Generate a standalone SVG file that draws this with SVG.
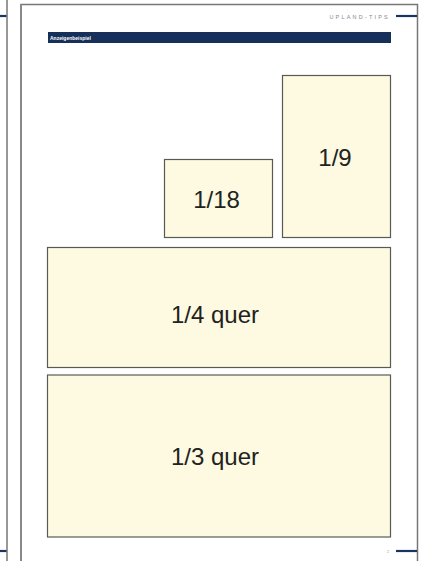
<svg xmlns="http://www.w3.org/2000/svg" width="421" height="561" viewBox="0 0 421 561">
<style>
.box{fill:#fdfae1;stroke:#5a5a55;stroke-width:1.2}
.lbl{font-family:"Liberation Sans",Arial,sans-serif;font-size:24px;fill:#222;text-anchor:middle}
.blue{stroke:#1a3360;stroke-width:2.2}
</style>
<rect width="421" height="561" fill="#ffffff"/>
<g id="left-page">
<line x1="7" y1="0" x2="7" y2="561" stroke="#333" stroke-width="1"/>
<line class="blue" x1="0" y1="16" x2="6.5" y2="16"/>
<line class="blue" x1="0" y1="551" x2="6.5" y2="551"/>
</g>
<g id="right-page">
<polyline points="21,561 21,4.5 417.5,4.5 417.5,561" fill="none" stroke="#777" stroke-width="1.5"/>
<line x1="21" y1="4.5" x2="21" y2="561" stroke="#888" stroke-width="2"/>
<line class="blue" x1="396" y1="16" x2="417" y2="16"/>
<line class="blue" x1="396" y1="551" x2="417" y2="551"/>
<text x="390" y="19" font-family="'Liberation Sans',Arial,sans-serif" font-size="5.5" fill="#888" text-anchor="end" letter-spacing="2.2">UPLAND-TIPS</text>
<text x="389" y="552.5" font-family="'Liberation Sans',Arial,sans-serif" font-size="3.5" fill="#999" text-anchor="end">2</text>
</g>
<g id="header">
<rect x="48" y="32" width="343" height="11" fill="#16305a"/>
<text x="50" y="40" font-family="'Liberation Sans',Arial,sans-serif" font-size="5" font-weight="bold" fill="#ffffff">Anzeigenbeispiel</text>
</g>
<g id="node-1-18">
<rect class="box" x="164.5" y="159.5" width="108" height="78"/>
<text class="lbl" x="216.5" y="208">1/18</text>
</g>
<g id="node-1-9">
<rect class="box" x="282.5" y="75.5" width="108" height="162"/>
<text class="lbl" x="335" y="166">1/9</text>
</g>
<g id="node-1-4">
<rect class="box" x="47.5" y="247.5" width="343" height="120"/>
<text class="lbl" x="215" y="323">1/4 quer</text>
</g>
<g id="node-1-3">
<rect class="box" x="47.5" y="375" width="343" height="162"/>
<text class="lbl" x="215" y="465">1/3 quer</text>
</g>
<g id="connectors"></g>
</svg>
